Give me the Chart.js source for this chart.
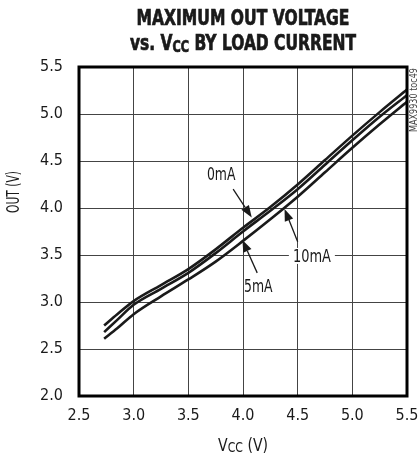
<!DOCTYPE html>
<html>
<head>
<meta charset="utf-8">
<script src="https://cdn.jsdelivr.net/npm/chart.js@4.4.1/dist/chart.umd.min.js"></script>
<style>
  html, body { margin: 0; padding: 0; background: #fff; }
  #wrap { position: relative; width: 418px; height: 457px; }
</style>
</head>
<body>
<div id="wrap"><canvas id="c"></canvas></div>
<script>
// ---- data ----
const vcc     = [2.73, 2.85, 3.00, 3.25, 3.50, 3.75, 4.00, 4.25, 4.50, 4.75, 5.00, 5.25, 5.50];
const out0mA  = [2.75, 2.87, 3.01, 3.18, 3.35, 3.56, 3.79, 4.01, 4.25, 4.51, 4.77, 5.02, 5.26];
const out5mA  = [2.68, 2.81, 2.97, 3.14, 3.31, 3.52, 3.75, 3.97, 4.20, 4.46, 4.72, 4.97, 5.20];
const out10mA = [2.61, 2.72, 2.87, 3.06, 3.24, 3.43, 3.65, 3.88, 4.12, 4.38, 4.64, 4.89, 5.13];
const seriesNames = ['0mA', '5mA', '10mA'];

const xTicks = [2.5, 3.0, 3.5, 4.0, 4.5, 5.0, 5.5];
const yTicks = [2.0, 2.5, 3.0, 3.5, 4.0, 4.5, 5.0, 5.5];

const titleLine1 = 'MAXIMUM OUT VOLTAGE';
const titleLine2 = ['vs. V', 'CC', ' BY LOAD CURRENT'];
const xTitle = ['V', 'CC', ' (V)'];
const yTitle = 'OUT (V)';
const figId = 'MAX9930 toc49';

// annotation labels (data units): label, text x/y, arrow tail x/y, arrow tip x/y
const annLabel = ['0mA', '5mA', '10mA'];
const annTextX = [3.80, 4.14, 4.63];
const annTextY = [4.36, 3.17, 3.49];
const annTailX = [3.91, 4.13, 4.50];
const annTailY = [4.20, 3.31, 3.64];
const annTipX  = [4.08, 3.995, 4.38];
const annTipY  = [3.90, 3.66, 3.99];
const annBox   = [false, false, true];

const FONT = "'Liberation Sans Narrow', 'DejaVu Sans Condensed', 'Arial Narrow', sans-serif";
const INK = '#1a1a1a';

// draw text runs centred at cx, compressed horizontally to targetW
function drawRuns(ctx, runs, cx, baseline, targetW, strokeW) {
  let total = 0;
  runs.forEach(r => { ctx.font = r.font; r.w = ctx.measureText(r.text).width; total += r.w; });
  const sx = targetW ? Math.min(1, targetW / total) : 1;
  ctx.save();
  ctx.translate(cx, baseline);
  ctx.scale(sx, 1);
  let x = -total / 2;
  ctx.textAlign = 'left';
  ctx.textBaseline = 'alphabetic';
  runs.forEach(r => {
    ctx.font = r.font;
    ctx.fillText(r.text, x, (r.dy || 0));
    if (strokeW) { ctx.lineWidth = strokeW; ctx.strokeStyle = ctx.fillStyle; ctx.strokeText(r.text, x, (r.dy || 0)); }
    x += r.w;
  });
  ctx.restore();
}

const decor = {
  id: 'decor',
  beforeDatasetsDraw(chart) {
    const ctx = chart.ctx, xs = chart.scales.x, ys = chart.scales.y;
    ctx.save();
    annLabel.forEach((t, i) => {
      if (!annBox[i]) return;
      const px = xs.getPixelForValue(annTextX[i]), py = ys.getPixelForValue(annTextY[i]);
      ctx.fillStyle = '#fff';
      ctx.fillRect(px - 23, py - 8, 46, 16);
    });
    ctx.restore();
  },
  afterDraw(chart) {
    const ctx = chart.ctx, a = chart.chartArea, xs = chart.scales.x, ys = chart.scales.y;
    ctx.save();
    ctx.strokeStyle = '#000';
    ctx.lineWidth = 3;
    ctx.strokeRect(a.left, a.top, a.right - a.left, a.bottom - a.top);

    ctx.fillStyle = INK;
    const cx = (a.left + a.right) / 2;
    drawRuns(ctx, [{ text: titleLine1, font: 'bold 22px ' + FONT }], cx, 25, 213, 0.7);
    drawRuns(ctx, [
      { text: titleLine2[0], font: 'bold 22px ' + FONT },
      { text: titleLine2[1], font: 'bold 16px ' + FONT, dy: 2 },
      { text: titleLine2[2], font: 'bold 22px ' + FONT }
    ], cx, 50, 226, 0.7);
    drawRuns(ctx, [
      { text: xTitle[0], font: '18px ' + FONT },
      { text: xTitle[1], font: '14px ' + FONT, dy: 1 },
      { text: xTitle[2], font: '18px ' + FONT }
    ], cx, 451, 50);
    ctx.save();
    ctx.translate(19, 192);
    ctx.rotate(-Math.PI / 2);
    drawRuns(ctx, [{ text: yTitle, font: '17px ' + FONT }], 0, 0, 42);
    ctx.restore();
    ctx.save();
    ctx.translate(417, 100);
    ctx.rotate(-Math.PI / 2);
    ctx.fillStyle = '#444';
    drawRuns(ctx, [{ text: figId, font: '10px ' + FONT }], 0, 0, 64);
    ctx.restore();

    annLabel.forEach((t, i) => {
      const tx = xs.getPixelForValue(annTextX[i]), ty = ys.getPixelForValue(annTextY[i]);
      ctx.fillStyle = INK;
      drawRuns(ctx, [{ text: t, font: '17px ' + FONT }], tx, ty + 6, t.length * 9.5);
      const x0 = xs.getPixelForValue(annTailX[i]), y0 = ys.getPixelForValue(annTailY[i]);
      const x1 = xs.getPixelForValue(annTipX[i]), y1 = ys.getPixelForValue(annTipY[i]);
      const ang = Math.atan2(y1 - y0, x1 - x0);
      const L = 12, W = 4.5;
      const bx = x1 - L * Math.cos(ang), by = y1 - L * Math.sin(ang);
      ctx.strokeStyle = INK;
      ctx.lineWidth = 1.3;
      ctx.beginPath(); ctx.moveTo(x0, y0); ctx.lineTo(bx, by); ctx.stroke();
      ctx.beginPath();
      ctx.moveTo(x1, y1);
      ctx.lineTo(bx + W * Math.sin(ang), by - W * Math.cos(ang));
      ctx.lineTo(bx - W * Math.sin(ang), by + W * Math.cos(ang));
      ctx.closePath();
      ctx.fill();
    });
    ctx.restore();
  }
};

const toPts = ys => vcc.map((v, i) => ({ x: v, y: ys[i] }));
const seriesValues = [out0mA, out5mA, out10mA];

new Chart(document.getElementById('c'), {
  type: 'line',
  data: {
    datasets: seriesValues.map((s, i) => ({
      label: seriesNames[i],
      data: toPts(s),
      borderColor: INK,
      borderWidth: 2.6,
      pointRadius: 0,
      fill: false,
      cubicInterpolationMode: 'monotone'
    }))
  },
  options: {
    responsive: true,
    maintainAspectRatio: false,
    animation: false,
    devicePixelRatio: 1,
    layout: { padding: { top: 67, right: 11, left: 0, bottom: 0 } },
    plugins: { legend: { display: false }, tooltip: { enabled: false }, title: { display: false } },
    scales: {
      x: {
        type: 'linear',
        min: xTicks[0], max: xTicks[xTicks.length - 1],
        afterBuildTicks: s => { s.ticks = xTicks.map(v => ({ value: v })); },
        afterFit: s => { s.height = 61; s.paddingLeft = 0; s.paddingRight = 0; },
        grid: { color: '#444', lineWidth: 1, drawTicks: false },
        border: { display: false },
        ticks: { padding: 10, color: INK, font: { family: FONT, size: 16 }, callback: v => Number(v).toFixed(1), maxRotation: 0, autoSkip: false }
      },
      y: {
        type: 'linear',
        min: yTicks[0], max: yTicks[yTicks.length - 1],
        afterBuildTicks: s => { s.ticks = yTicks.map(v => ({ value: v })); },
        afterFit: s => { s.width = 79; s.paddingTop = 0; s.paddingBottom = 0; },
        grid: { color: '#444', lineWidth: 1, drawTicks: false },
        border: { display: false },
        ticks: { padding: 16, color: INK, font: { family: FONT, size: 16 }, callback: v => Number(v).toFixed(1), autoSkip: false }
      }
    }
  },
  plugins: [decor]
});
</script>
</body>
</html>
